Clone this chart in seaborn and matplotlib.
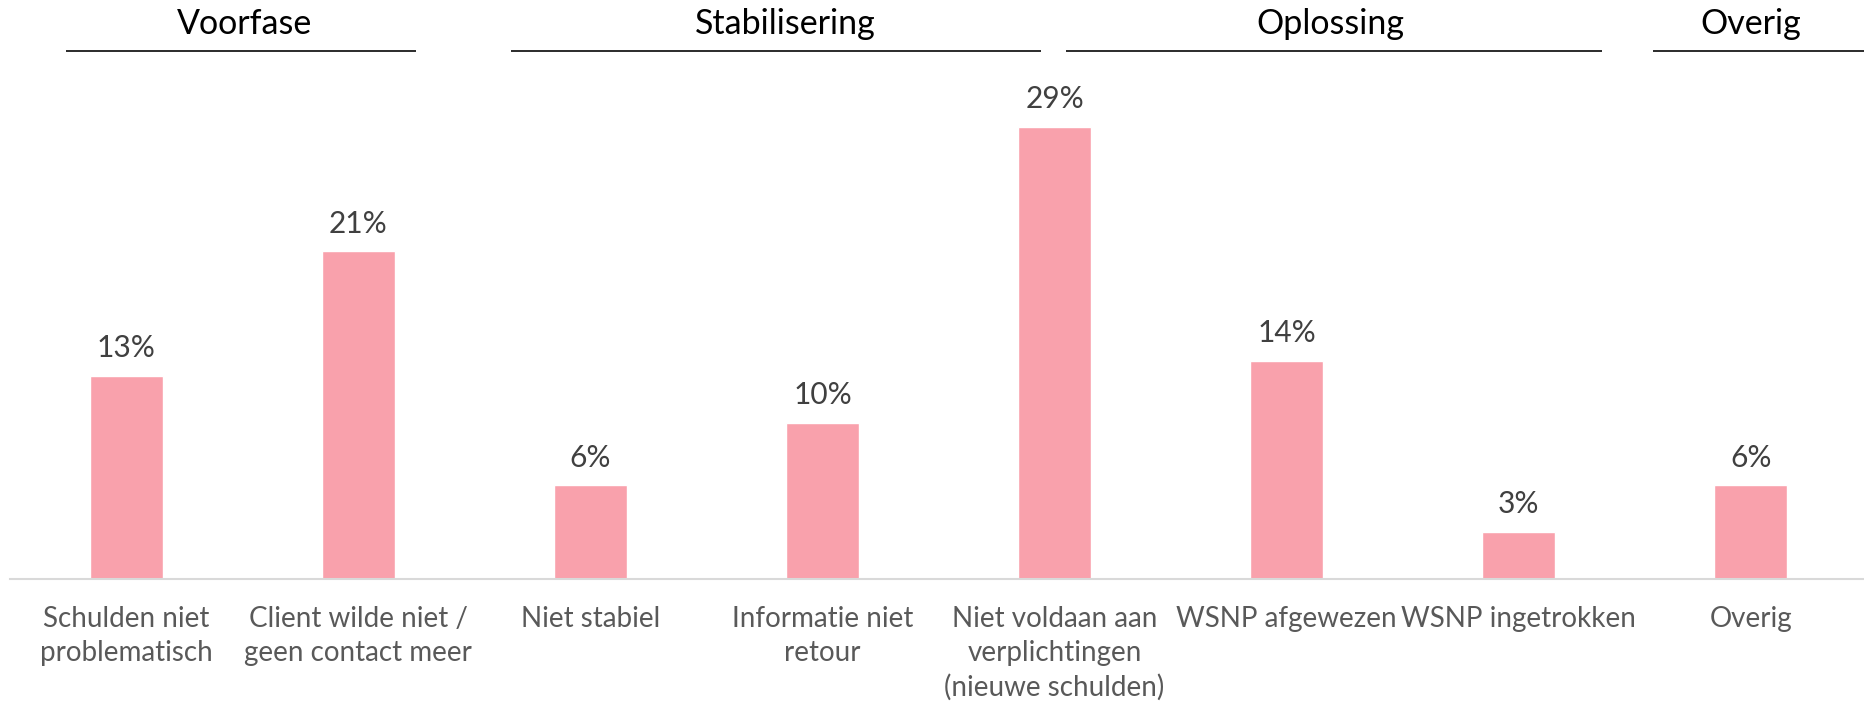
import matplotlib
matplotlib.use("Agg")
import matplotlib.pyplot as plt
import matplotlib.transforms as mtransforms
import seaborn as sns
import pandas as pd

# Reasons for dropping out, grouped by phase of the debt-relief process
categories = [
    "Schulden niet\nproblematisch",
    "Client wilde niet /\ngeen contact meer",
    "Niet stabiel",
    "Informatie niet\nretour",
    "Niet voldaan aan\nverplichtingen\n(nieuwe schulden)",
    "WSNP afgewezen",
    "WSNP ingetrokken",
    "Overig",
]
percentages = [13, 21, 6, 10, 29, 14, 3, 6]
phases = ["Voorfase", "Stabilisering", "Oplossing", "Overig"]
phase_of_category = ["Voorfase", "Voorfase", "Stabilisering", "Stabilisering",
                     "Stabilisering", "Oplossing", "Oplossing", "Overig"]

df = pd.DataFrame({"reden": categories, "pct": percentages, "fase": phase_of_category})

sns.set_theme(style="white")
plt.rcParams["font.family"] = ["Lato", "DejaVu Sans"]

W, H = 1865, 703
fig = plt.figure(figsize=(W / 100, H / 100), dpi=100)
base_px, top_px = 579, 60
ax = fig.add_axes([10 / W, (H - base_px) / H, 1857 / W, (base_px - top_px) / H])

bar_color = "#F9A1AC"
sns.barplot(data=df, x="reden", y="pct", color=bar_color, width=0.315,
            saturation=1, ax=ax, order=categories)

ax.set_xlim(-0.5, len(categories) - 0.5)
ax.set_ylim(0, (base_px - top_px) / 15.6)
ax.set_xlabel("")
ax.set_ylabel("")
ax.set_yticks([])
for side in ("left", "right", "top"):
    ax.spines[side].set_visible(False)
ax.spines["bottom"].set_color("#D9D9D9")
ax.spines["bottom"].set_linewidth(1.5)
ax.tick_params(axis="x", length=0, pad=19.5, labelsize=20, labelcolor="#595959")
for lbl in ax.get_xticklabels():
    lbl.set_linespacing(1.36)
    lbl.set_verticalalignment("top")

# Value labels on top of each bar
for i, v in enumerate(percentages):
    ax.annotate(f"{v}%", (i, v), xytext=(0, 20), textcoords="offset points",
                ha="center", va="center", fontsize=21.5, color="#404040")

# Phase headers with underline, spanning their categories
span_edges = {
    "Voorfase": (-0.26, 1.25),
    "Stabilisering": (1.66, 3.94),
    "Oplossing": (4.05, 6.36),
    "Overig": (6.58, 7.52),
}
label_x = {
    "Voorfase": 0.51,
    "Stabilisering": 2.84,
    "Oplossing": 5.19,
    "Overig": 7.00,
}
trans = mtransforms.blended_transform_factory(ax.transData, fig.transFigure)
line_y = 1 - 51 / H
text_y = 1 - 24 / H
for ph in phases:
    x0, x1 = span_edges[ph]
    ax.plot([x0, x1], [line_y, line_y], transform=trans, color="#1A1A1A",
            lw=1.3, clip_on=False, solid_capstyle="butt")
    ax.text(label_x[ph], text_y, ph, transform=trans, ha="center",
            va="center", fontsize=24.5, color="#000000")

fig.savefig("out.png", dpi=100, facecolor="white")
